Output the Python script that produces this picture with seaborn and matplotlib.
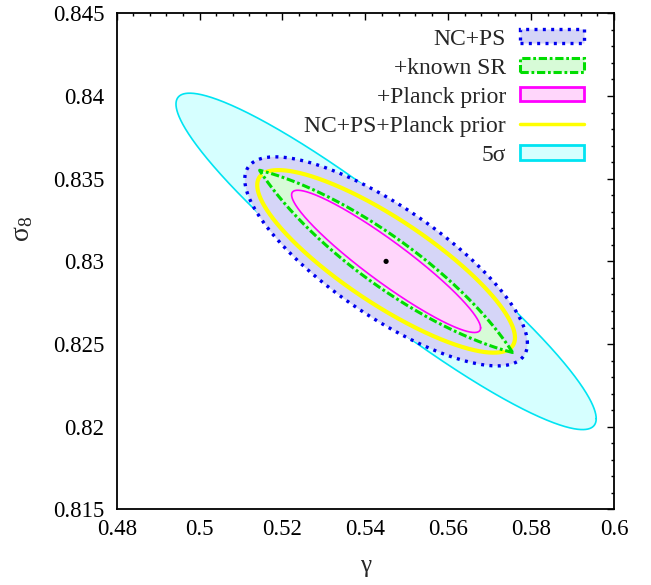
import numpy as np
import pandas as pd
import matplotlib
matplotlib.use("Agg")
import matplotlib.pyplot as plt
import seaborn as sns
from matplotlib.patches import Patch
from matplotlib.lines import Line2D
from matplotlib.ticker import MultipleLocator

# ---------------- data ----------------
gamma_fid = 0.545
s8_fid = 0.830

# single-ellipse contours
ell_names = ["5σ", "NC+PS", "NC+PS+Planck prior", "+Planck prior"]
ell_gamma_c = [0.545, 0.545, 0.545, 0.545]
ell_s8_c = [0.830, 0.830, 0.830, 0.830]
ell_sig_gamma = [0.0507, 0.0341, 0.0311, 0.0228]
ell_sig_s8 = [0.01017, 0.00632, 0.00552, 0.00430]
ell_corr = [-0.935, -0.785, -0.835, -0.935]

# "+known SR" region: overlap of two shifted ellipses
sr_gamma_c = [0.53725, 0.55275]
sr_s8_c = [0.8273, 0.8327]
sr_sig_gamma = 0.04355
sr_sig_s8 = 0.008545
sr_corr = -0.739

legend_labels = ["NC+PS", "+known SR", "+Planck prior", "NC+PS+Planck prior", "5σ"]
x_ticks = [0.48, 0.50, 0.52, 0.54, 0.56, 0.58, 0.60]
x_tick_labels = ["0.48", "0.5", "0.52", "0.54", "0.56", "0.58", "0.6"]
y_ticks = [0.815, 0.820, 0.825, 0.830, 0.835, 0.840, 0.845]
y_tick_labels = ["0.815", "0.82", "0.825", "0.83", "0.835", "0.84", "0.845"]

# ---------------- styles ----------------
sns.set_theme(style="white")
plt.rcParams["font.family"] = ["Liberation Serif", "DejaVu Serif"]
plt.rcParams["mathtext.fontset"] = "custom"
plt.rcParams["mathtext.rm"] = "Liberation Serif"
plt.rcParams["mathtext.it"] = "Liberation Serif:italic"

styles = {
    "5σ": dict(edge="#00e4f2", fill="#d6ffff", lw=1.2, ls="-"),
    "NC+PS": dict(edge="#0000ee", fill="#d5d5f7", lw=2.4, ls=(0, (0.9, 1.6))),
    "NC+PS+Planck prior": dict(edge="#ffff00", fill=None, lw=3.0, ls="-"),
    "+Planck prior": dict(edge="#ff00ff", fill="#ffd6fb", lw=1.2, ls="-"),
    "+known SR": dict(edge="#00dd00", fill="#d7fbd7", lw=2.2, ls=(0, (2.7, 0.9, 0.9, 0.9))),
}


def ellipse_df(cx, cy, sx, sy, r, n=1500):
    t = np.linspace(0, 2 * np.pi, n, endpoint=False)
    g = cx + sx * np.cos(t)
    s = cy + sy * (r * np.cos(t) + np.sqrt(1 - r * r) * np.sin(t))
    return pd.DataFrame({"gamma": g, "s8": s})


def qform(df, cx, cy, sx, sy, r):
    u = (df["gamma"].values - cx) / sx
    v = (df["s8"].values - cy) / sy
    return (u * u - 2 * r * u * v + v * v) / (1 - r * r)


def closed(df):
    return pd.concat([df, df.iloc[:1]], ignore_index=True)


def overlap_df():
    arcs = []
    for i, j in [(0, 1), (1, 0)]:
        e = ellipse_df(sr_gamma_c[i], sr_s8_c[i], sr_sig_gamma, sr_sig_s8, sr_corr, 4000)
        inside = qform(e, sr_gamma_c[j], sr_s8_c[j], sr_sig_gamma, sr_sig_s8, sr_corr) <= 1
        start = int(np.argmax(inside & ~np.roll(inside, 1)))
        e = e.iloc[np.roll(np.arange(len(e)), -start)].reset_index(drop=True)
        arcs.append(e.iloc[: int(inside.sum())])
    return pd.concat(arcs, ignore_index=True)


fig = plt.figure(figsize=(6.51, 5.85), dpi=100)
ax = fig.add_axes([0.1793, 0.1291, 0.7639, 0.8482])

shapes = {}
for k, name in enumerate(ell_names):
    shapes[name] = closed(ellipse_df(ell_gamma_c[k], ell_s8_c[k], ell_sig_gamma[k],
                                     ell_sig_s8[k], ell_corr[k]))
shapes["+known SR"] = closed(overlap_df())


def draw(name, fill=True, line=True, z=1):
    st = styles[name]
    d = shapes[name]
    if fill and st["fill"] is not None:
        ax.fill(d["gamma"], d["s8"], color=st["fill"], lw=0, zorder=z)
    if line:
        sns.lineplot(data=d, x="gamma", y="s8", sort=False, estimator=None, ax=ax,
                     color=st["edge"], lw=st["lw"], linestyle=st["ls"], zorder=z + 0.5,
                     legend=False)


draw("5σ", z=1)
draw("NC+PS", z=2)
draw("NC+PS+Planck prior", z=3)
draw("+known SR", line=False, z=4)
draw("+Planck prior", line=False, z=5)
draw("+known SR", fill=False, z=6)
draw("+Planck prior", fill=False, z=7)

sns.scatterplot(x=[gamma_fid], y=[s8_fid], color="black", s=14, ax=ax, zorder=10,
                edgecolor="none")

# ---------------- axes ----------------
ax.set_xlim(0.48, 0.60)
ax.set_ylim(0.815, 0.845)
ax.set_xticks(x_ticks)
ax.set_xticklabels(x_tick_labels)
ax.set_yticks(y_ticks)
ax.set_yticklabels(y_tick_labels)
ax.xaxis.set_minor_locator(MultipleLocator(0.004))
ax.yaxis.set_minor_locator(MultipleLocator(0.001))
ax.tick_params(which="both", direction="in", top=True, right=True, colors="black",
               labelsize=16.5)
ax.tick_params(which="major", length=5, width=1.0)
ax.tick_params(which="minor", length=2.2, width=1.0)
ax.tick_params(axis="x", pad=7)
ax.tick_params(axis="y", pad=9)
for sp in ax.spines.values():
    sp.set_linewidth(1.3)
    sp.set_color("black")
ax.grid(False)
ax.set_facecolor("white")

ax.set_xlabel("γ", fontsize=18)
ax.set_ylabel(r"$\mathregular{σ_8}$", fontsize=20)
ax.xaxis.set_label_coords(0.5, -0.092)
ax.yaxis.set_label_coords(-0.165, 0.565)

# ---------------- legend ----------------
handles = [
    Patch(facecolor=styles["NC+PS"]["fill"], edgecolor=styles["NC+PS"]["edge"],
          lw=2.4, linestyle=(0, (0.9, 1.6))),
    Patch(facecolor=styles["+known SR"]["fill"], edgecolor=styles["+known SR"]["edge"],
          lw=2.2, linestyle=(0, (2.7, 0.9, 0.9, 0.9))),
    Patch(facecolor=styles["+Planck prior"]["fill"], edgecolor=styles["+Planck prior"]["edge"],
          lw=2.0),
    Line2D([0], [0], color=styles["NC+PS+Planck prior"]["edge"], lw=2.5),
    Patch(facecolor=styles["5σ"]["fill"], edgecolor=styles["5σ"]["edge"], lw=2.0),
]
leg = ax.legend(handles, legend_labels, loc="upper right", bbox_to_anchor=(0.958, 0.988),
                frameon=False, markerfirst=False, fontsize=17, handlelength=2.7,
                handleheight=0.55, labelspacing=0.34, handletextpad=0.6,
                borderaxespad=0.0)

fig.savefig("out.png", dpi=100)
